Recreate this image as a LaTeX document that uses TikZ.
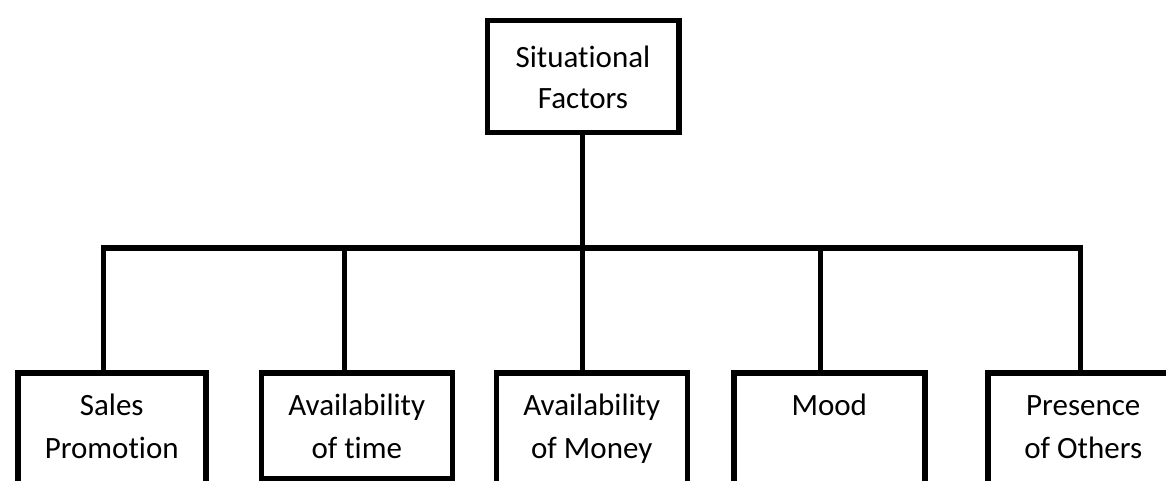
\documentclass[tikz,border=0pt]{standalone}
\usepackage{fontspec}
\setmainfont[Ligatures=NoCommon]{Carlito}
\begin{document}
\begin{tikzpicture}[x=1pt,y=-1pt,
  box/.style={draw=black, line width=5.5pt, rectangle, inner sep=0pt, align=center,
    anchor=north west, font=\fontsize{31}{43}\selectfont, text height=65pt, text depth=0pt,
    minimum width=191pt, minimum height=106pt},
  openbox/.style={box, minimum height=122pt, text depth=15pt},
  link/.style={draw=black, line width=5.5pt}]
\useasboundingbox (0,0) rectangle (1166,481);
\clip (0,0) rectangle (1166,481);
\fill[white] (0,0) rectangle (1166,481);

\node[box, minimum width=191.5pt, minimum height=112pt, font=\fontsize{31}{41}\selectfont, text height=63pt, yshift=-1pt] (top) at (484.5,17) {Situational\\Factors};

\node[openbox, minimum width=188pt] (b1) at (15,370) {Sales\\Promotion};
\node[box] (b2) at (258.5,370) {Availability\\of time};
\node[openbox] (b3) at (493.5,370) {Availability\\of Money};
\node[openbox] (b4) at (731,370) {Mood\\\mbox{}};
\node[openbox] (b5) at (985,370) {Presence\\of Others};

\coordinate (d1) at (103.5,248);
\coordinate (d2) at (344.5,248);
\coordinate (d3) at (582.5,248);
\coordinate (d4) at (820.5,248);
\coordinate (d5) at (1080.5,248);

\draw[link] (top.south -| d3) -- (d3);
\draw[link] (d1 |- b1.north) -- (d1) -- (d5) -- (d5 |- b5.north);
\draw[link] (d2) -- (d2 |- b2.north);
\draw[link] (d3) -- (d3 |- b3.north);
\draw[link] (d4) -- (d4 |- b4.north);
\end{tikzpicture}
\end{document}
